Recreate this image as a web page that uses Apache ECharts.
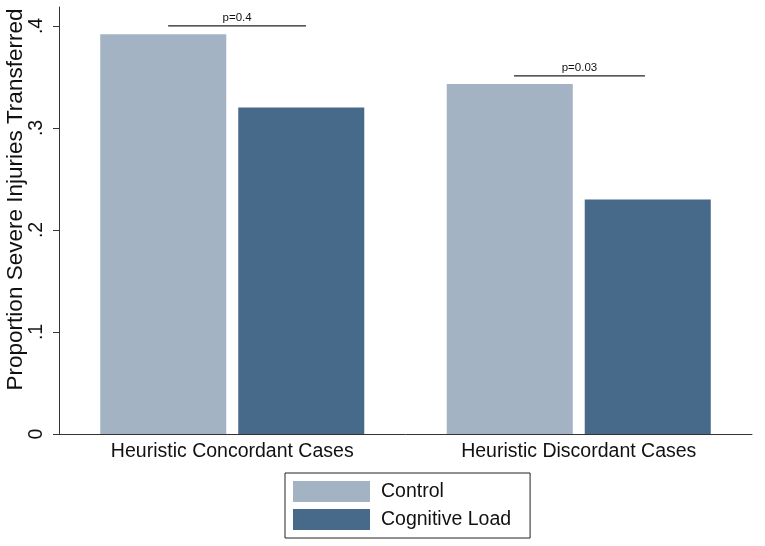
<!DOCTYPE html>
<html>
<head>
<meta charset="utf-8">
<script src="https://cdn.jsdelivr.net/npm/echarts@6/dist/echarts.min.js"></script>
<style>html,body{margin:0;padding:0;background:#fff;}#c{width:765px;height:546px;}</style>
</head>
<body>
<div id="c"></div>
<script>
const categories = ['Heuristic Concordant Cases', 'Heuristic Discordant Cases'];
const seriesNames = ['Control', 'Cognitive Load'];
const controlValues = [0.392, 0.343];
const cognitiveValues = [0.320, 0.230];
const yTicks = [0, 0.1, 0.2, 0.3, 0.4];
const bracketLabels = ['p=0.4', 'p=0.03'];
const bracketValues = [0.400, 0.351];
const bracketStart = [0.315, 1.313];
const bracketEnd = [0.713, 1.691];

const colors = ['#a3b3c3', '#476a8a'];
const font = 'Liberation Sans, Arial, Helvetica, sans-serif';

const chart = echarts.init(document.getElementById('c'), null, {renderer: 'canvas'});
const bracketData = bracketLabels.map((l, i) => [bracketStart[i], bracketEnd[i], bracketValues[i], l]);

chart.setOption({
  animation: false,
  backgroundColor: '#fff',
  textStyle: {fontFamily: font},
  grid: {left: 59, right: 13, top: 7, bottom: 112, containLabel: false, outerBoundsMode: 'none'},
  legend: {
    orient: 'vertical', left: 285, top: 473,
    padding: [8, 19, 8, 8], itemGap: 7,
    itemWidth: 77, itemHeight: 21,
    borderColor: '#222', borderWidth: 1,
    textStyle: {fontSize: 19.5, color: '#111', fontFamily: font, padding: [0, 0, 0, 6]},
    data: seriesNames.map(n => ({name: n, icon: 'rect'}))
  },
  xAxis: [{
    type: 'category', data: categories,
    axisLine: {lineStyle: {color: '#333', width: 1}},
    axisTick: {show: false},
    axisLabel: {fontSize: 19.5, color: '#111', margin: 8, fontFamily: font}
  }, {
    type: 'value', min: 0, max: 2, show: false
  }],
  yAxis: {
    type: 'value', min: 0, max: 0.4186, interval: 0.1,
    splitLine: {show: false},
    axisLine: {show: true, lineStyle: {color: '#333', width: 1}},
    axisTick: {show: true, length: 6, lineStyle: {color: '#333'},
      customValues: yTicks},
    axisLabel: {
      fontSize: 19.5, color: '#111', rotate: 90, margin: 12, fontFamily: font,
      customValues: yTicks,
      formatter: v => v === 0 ? '0' : ('' + (+v.toFixed(1))).replace(/^0/, '')
    },
    name: 'Proportion Severe Injuries Transferred',
    nameLocation: 'middle', nameGap: 32, nameRotate: 90, nameMoveOverlap: false,
    nameTextStyle: {fontSize: 22.5, color: '#111', fontFamily: font, padding: [0, 0, 0, 42]}
  },
  series: [{
    name: seriesNames[0], type: 'bar', data: controlValues,
    itemStyle: {color: colors[0]}, barGap: '9.5%', barCategoryGap: '23.8%'
  }, {
    name: seriesNames[1], type: 'bar', data: cognitiveValues,
    itemStyle: {color: colors[1]}, barGap: '9.5%', barCategoryGap: '23.8%'
  }, {
    type: 'custom', xAxisIndex: 1, yAxisIndex: 0, silent: true,
    data: bracketData,
    renderItem: function (params, api) {
      const p0 = api.coord([api.value(0), api.value(2)]);
      const p1 = api.coord([api.value(1), api.value(2)]);
      const label = bracketData[params.dataIndex][3];
      return {
        type: 'group',
        children: [{
          type: 'line',
          shape: {x1: p0[0], y1: p0[1], x2: p1[0], y2: p1[1]},
          style: {stroke: '#222', lineWidth: 1.3}
        }, {
          type: 'text',
          style: {
            text: label, x: (p0[0] + p1[0]) / 2, y: p0[1] - 2,
            align: 'center', verticalAlign: 'bottom',
            fontSize: 11.5, fill: '#111', fontFamily: font
          }
        }]
      };
    }
  }]
});
</script>
</body>
</html>
